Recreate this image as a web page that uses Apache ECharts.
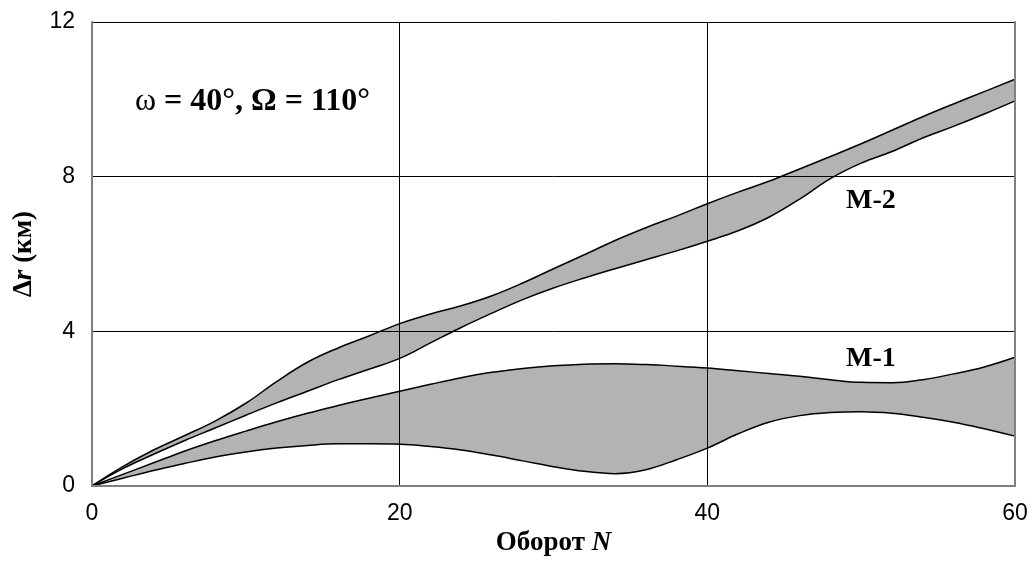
<!DOCTYPE html>
<html>
<head>
<meta charset="utf-8">
<script src="https://cdn.jsdelivr.net/npm/echarts@6/dist/echarts.min.js"></script>
<style>html,body{margin:0;padding:0;background:#fff}#c{width:1033px;height:562px}</style>
</head>
<body>
<div id="c"></div>
<script>
const N   = [0,2,4,6,8,10,12,14,16,18,20,22,24,26,28,30,32,34,36,38,40,42,44,46,48,50,52,54,56,58,60];
const m2Upper = [0,0.5,0.93,1.3,1.68,2.14,2.7,3.2,3.57,3.88,4.2,4.45,4.66,4.92,5.25,5.62,5.98,6.35,6.68,6.98,7.3,7.6,7.88,8.2,8.52,8.85,9.2,9.55,9.88,10.2,10.52];
const m2Lower = [0,0.45,0.82,1.17,1.5,1.83,2.15,2.45,2.75,3.02,3.3,3.7,4.1,4.47,4.82,5.12,5.38,5.62,5.85,6.08,6.33,6.6,6.95,7.42,7.95,8.35,8.65,9.0,9.3,9.62,9.96];
const m1Upper = [0,0.3,0.6,0.9,1.17,1.42,1.66,1.88,2.08,2.27,2.45,2.63,2.8,2.94,3.04,3.11,3.15,3.16,3.14,3.1,3.05,2.98,2.91,2.84,2.75,2.68,2.67,2.75,2.9,3.08,3.33];
const m1Lower = [0,0.2,0.4,0.58,0.75,0.88,0.98,1.05,1.09,1.09,1.08,1.02,0.93,0.8,0.65,0.5,0.38,0.32,0.42,0.68,0.98,1.35,1.65,1.82,1.9,1.92,1.88,1.78,1.65,1.48,1.29];
const xTicks = [0,20,40,60];
const xGrid = [20,40];
const yTicks = [0,4,8,12];

const diffs = (up, lo) => up.map((u,i)=> +(u-lo[i]).toFixed(3));

const lineStyle = {color:'#000', width:1.5};
function base(name, ys, stack){
  return {name, type:'line', stack, data:ys.slice(), smooth:0.4, symbol:'none', lineStyle, z:2};
}
function band(name, up, lo, stack){
  return {name, type:'line', stack, data:diffs(up,lo), smooth:0.4, symbol:'none',
    lineStyle, areaStyle:{color:'#b3b3b3', opacity:1}, z:2};
}
const serifBold = {fontFamily:'Liberation Serif', fontWeight:'bold', color:'#000'};

const chart = echarts.init(document.getElementById('c'), null, {renderer:'canvas'});
chart.setOption({
  animation:false,
  backgroundColor:'#fff',
  grid:{left:92, right:18, top:22, bottom:76, show:false, containLabel:false, outerBoundsMode:'none'},
  xAxis:{type:'category', data:N.map(String), boundaryGap:false, z:10,
    name:'Оборот {i|N}', nameLocation:'middle', nameGap:41,
    nameTextStyle:Object.assign({fontSize:27, rich:{i:Object.assign({fontSize:27, fontStyle:'italic'}, serifBold)}}, serifBold),
    axisLine:{show:true, lineStyle:{color:'#808080', width:2}},
    axisTick:{show:false},
    axisLabel:{fontFamily:'Liberation Sans', fontSize:23, color:'#000', margin:16,
      interval:(i,v)=> xTicks.includes(+v)},
    splitLine:{show:true, interval:(i,v)=> xGrid.includes(+v), lineStyle:{color:'#000', width:1}}
  },
  yAxis:[{type:'value', min:0, max:12, interval:4, z:10,
    name:'Δ{i|r} (км)', nameLocation:'middle', nameGap:54, nameRotate:90,
    nameTextStyle:Object.assign({fontSize:27, rich:{i:Object.assign({fontSize:27, fontStyle:'italic'}, serifBold)}}, serifBold),
    axisLine:{show:true, lineStyle:{color:'#808080', width:2}},
    axisTick:{show:false},
    axisLabel:{fontFamily:'Liberation Sans', fontSize:23, color:'#000', margin:17,
      formatter:(v)=> yTicks.includes(v) ? String(v) : ''},
    splitLine:{show:true, lineStyle:{color:'#000', width:1}}
  },{type:'value', position:'right', min:0, max:12, interval:4, z:10,
    axisLine:{show:true, lineStyle:{color:'#808080', width:2}},
    axisTick:{show:false}, axisLabel:{show:false}, splitLine:{show:false}
  }],
  series:[
    base('M-2 lower', m2Lower, 'm2'),
    band('M-2', m2Upper, m2Lower, 'm2'),
    base('M-1 lower', m1Lower, 'm1'),
    band('M-1', m1Upper, m1Lower, 'm1')
  ],
  graphic:[
    {type:'text', z:20, left:135, top:86, silent:true,
      style:{text:'{r|ω} = 40°, Ω = 110°', fontFamily:'Liberation Serif', fontWeight:'bold', fontSize:32, fill:'#000',
        rich:{r:{fontFamily:'Liberation Serif', fontWeight:'normal', fontSize:32, fill:'#000'}}}},
    {type:'text', z:20, left:846, top:187, silent:true,
      style:{text:'M-2', fontFamily:'Liberation Serif', fontWeight:'bold', fontSize:28, fill:'#000'}},
    {type:'text', z:20, left:846, top:345, silent:true,
      style:{text:'M-1', fontFamily:'Liberation Serif', fontWeight:'bold', fontSize:28, fill:'#000'}}
  ]
});
</script>
</body>
</html>
